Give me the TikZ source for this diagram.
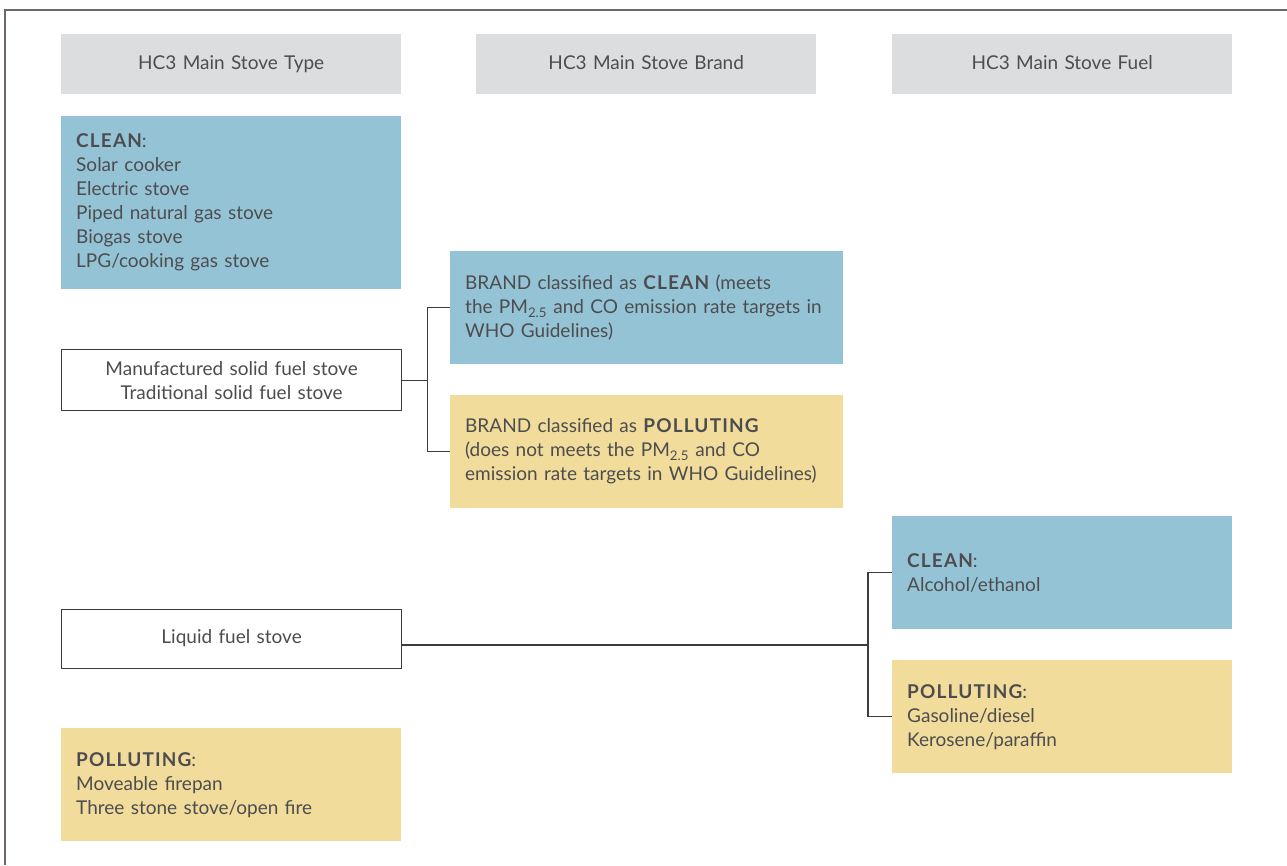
\documentclass[tikz,border=0pt]{standalone}
\usepackage{fontspec}
\setmainfont{Lato}
\definecolor{txt}{RGB}{77,77,79}
\definecolor{hdrgray}{RGB}{220,221,223}
\definecolor{cleanblue}{RGB}{149,195,214}
\definecolor{pollyellow}{RGB}{241,220,155}
\definecolor{framec}{RGB}{112,102,102}
\definecolor{linec}{RGB}{60,60,62}
\newcommand\hv[1]{{\bfseries\addfontfeatures{LetterSpace=6}#1}}
\tikzset{
  base/.style={inner xsep=15pt, inner ysep=0pt, anchor=north west, text=txt,
    font=\fontsize{19}{24}\selectfont},
  hdr/.style={base, fill=hdrgray, minimum width=340pt, text width=310pt, minimum height=60pt, align=center},
  tbox/.style={base, draw=linec, line width=1.2pt, fill=white, minimum width=340pt, text width=310pt, align=center},
  wide/.style={minimum width=393pt, text width=363pt},
  narrow/.style={minimum width=340pt, text width=310pt},
  cbox/.style={base, fill=cleanblue, align=left},
  pbox/.style={base, fill=pollyellow, align=left},
  conn/.style={draw=linec, line width=1.2pt}
}
\begin{document}
\begin{tikzpicture}[x=1pt,y=-1pt]
\useasboundingbox (0,0) rectangle (1287,865);
\draw[framec, line width=1.5pt] (1287,10) -- (5,10) -- (5,865);

\node[hdr] (h1) at (61,34) {\strut HC3 Main Stove Type};
\node[hdr] (h2) at (476,34) {\strut HC3 Main Stove Brand};
\node[hdr] (h3) at (892,34) {\strut HC3 Main Stove Fuel};

\node[cbox, narrow, minimum height=173pt] (cleanT) at (61,116)
  {\hv{CLEAN}:\\Solar cooker\\Electric stove\\Piped natural gas stove\\Biogas stove\\LPG/cooking gas stove};

\node[tbox, minimum height=61pt] (manu) at (61,349)
  {Manufactured solid fuel stove\\Traditional solid fuel stove};

\node[cbox, wide, minimum height=113pt] (bclean) at (450,251)
  {BRAND classified as \hv{CLEAN} (meets\\the PM\textsubscript{2.5} and CO emission rate targets in\\WHO Guidelines)};

\node[pbox, wide, minimum height=113pt] (bpoll) at (450,395)
  {BRAND classified as \hv{POLLUTING}\\(does not meets the PM\textsubscript{2.5} and CO\\emission rate targets in WHO Guidelines)};

\node[tbox, minimum height=59pt] (liq) at (61,609) {\strut Liquid fuel stove};

\node[pbox, narrow, minimum height=113pt] (pollT) at (61,728)
  {\hv{POLLUTING}:\\Moveable firepan\\Three stone stove/open fire};

\node[cbox, narrow, minimum height=113pt] (fclean) at (892,516)
  {\hv{CLEAN}:\\Alcohol/ethanol};

\node[pbox, narrow, minimum height=113pt] (fpoll) at (892,660)
  {\hv{POLLUTING}:\\Gasoline/diesel\\Kerosene/paraffin};

% connectors
\draw[conn] (manu.east) -- ++(25.5,0) coordinate (m1);
\draw[conn] (bclean.west) -| (m1) |- (bpoll.west);
\coordinate (f1) at (868,645);
\draw[conn] (liq.east |- f1) -- (f1);
\draw[conn] (fclean.west) -| (f1) |- (fpoll.west);
\end{tikzpicture}
\end{document}
